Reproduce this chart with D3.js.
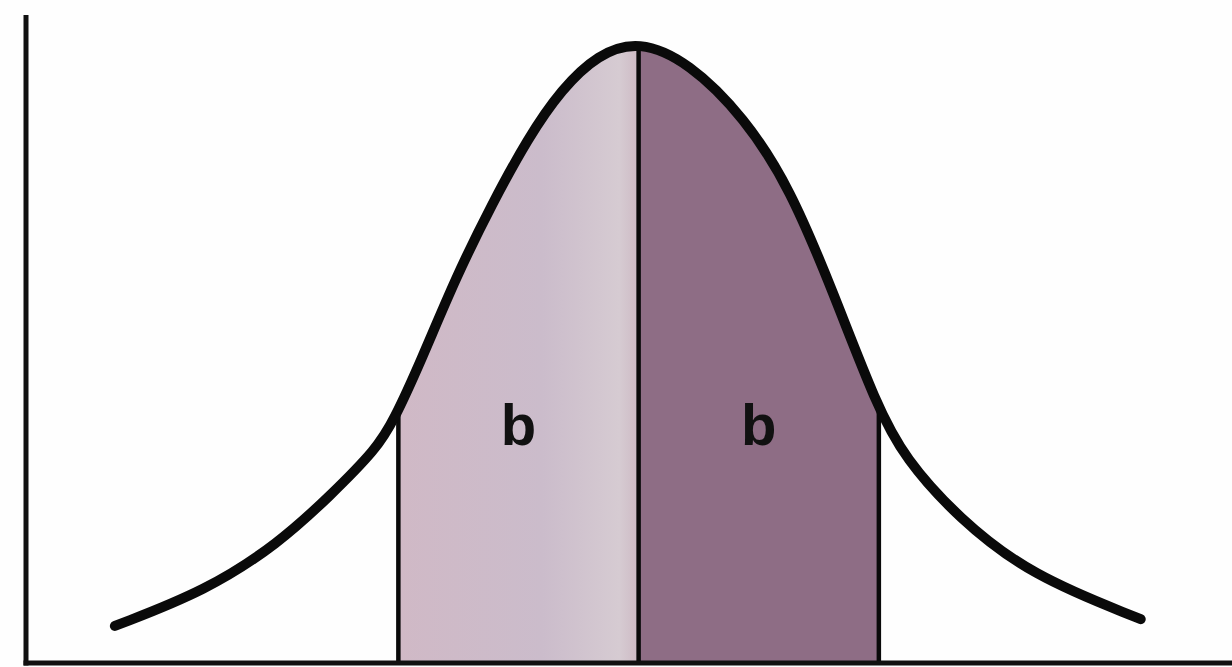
<!DOCTYPE html>
<meta charset="utf-8">
<style>
  body {
    margin: 0;
    background-color: #fefefe;
  }
  .axis-line {
    stroke: #111;
    stroke-width: 5;
  }
  .curve {
    fill: none;
    stroke: #0a0a0a;
    stroke-width: 10;
    stroke-linecap: round;
    stroke-linejoin: round;
  }
  .divider {
    stroke: #0a0a0a;
    stroke-width: 4.5;
  }
  .band-label {
    font: 700 58px "Liberation Sans", Arial, sans-serif;
    fill: #111;
  }
</style>
<body>
<div id="chart"></div>
<script src="https://d3js.org/d3.v7.min.js"></script>
<script>

// curve: position in std units, height relative to peak
var curveX = [-2.18, -1.80, -1.50, -1.28, -1.09, -1.02, -0.91, -0.76, -0.61, -0.46, -0.32, -0.17, 0,
              0.21, 0.44, 0.63, 0.81, 0.99, 1.11, 1.33, 1.63, 2.09];
var curveY = [0.060, 0.117, 0.193, 0.272, 0.347, 0.392, 0.485, 0.625, 0.743, 0.850, 0.929, 0.985, 1.008,
              0.972, 0.883, 0.769, 0.600, 0.417, 0.330, 0.235, 0.142, 0.071];

// shaded bands
var bandStart = [-1, 0];
var bandEnd = [0, 1];
var bandLabels = ["b", "b"];
var bandColors = ["#cdb8c7", "#8e6d85"];
var dividers = [-1, 0, 1];

var width = 1232,
    height = 667;

var x = d3.scaleLinear()
    .domain([-2.55, 2.47])
    .range([26, width]);

var y = d3.scaleLinear()
    .domain([0, 1])
    .range([663, 45]);

var svg = d3.select("#chart")
    .append("svg")
    .attr("width", width)
    .attr("height", height);

var points = curveX.map(function(d, i) { return [d, curveY[i]]; });

var line = d3.line()
    .x(function(d) { return x(d[0]); })
    .y(function(d) { return y(d[1]); })
    .curve(d3.curveBasis);

var area = d3.area()
    .x(function(d) { return x(d[0]); })
    .y0(y(0))
    .y1(function(d) { return y(d[1]); })
    .curve(d3.curveBasis);

// clip the bands and dividers to the area under the curve
svg.append("clipPath")
    .attr("id", "under")
  .append("path")
    .datum(points)
    .attr("d", area);

var bands = svg.append("g").attr("clip-path", "url(#under)");

var grad = svg.append("defs").append("linearGradient")
    .attr("id", "lightBand")
    .attr("x1", "0").attr("x2", "1").attr("y1", "0").attr("y2", "0");
grad.append("stop").attr("offset", "0").attr("stop-color", "#d0b9c6");
grad.append("stop").attr("offset", "0.6").attr("stop-color", "#cbbccb");
grad.append("stop").attr("offset", "0.92").attr("stop-color", "#d6cbd2");
grad.append("stop").attr("offset", "1").attr("stop-color", "#cdbac4");

bands.selectAll(".band")
    .data(bandStart)
  .enter().append("rect")
    .attr("class", "band")
    .attr("x", function(d) { return x(d); })
    .attr("width", function(d, i) { return x(bandEnd[i]) - x(d); })
    .attr("y", y(1.05))
    .attr("height", y(0) - y(1.05))
    .style("fill", function(d, i) { return i === 0 ? "url(#lightBand)" : bandColors[i]; });

bands.selectAll(".divider")
    .data(dividers)
  .enter().append("line")
    .attr("class", "divider")
    .attr("x1", function(d) { return x(d); })
    .attr("x2", function(d) { return x(d); })
    .attr("y1", y(0))
    .attr("y2", y(1.05));

svg.selectAll(".band-label")
    .data(bandLabels)
  .enter().append("text")
    .attr("class", "band-label")
    .attr("text-anchor", "middle")
    .attr("x", function(d, i) { return x((bandStart[i] + bandEnd[i]) / 2); })
    .attr("y", y(0.353))
    .text(function(d) { return d; });

svg.append("path")
    .datum(points)
    .attr("class", "curve")
    .attr("d", line);

// axes: plain lines, no ticks
svg.append("line")
    .attr("class", "axis-line")
    .attr("x1", x.range()[0]).attr("x2", x.range()[0])
    .attr("y1", 15).attr("y2", y(0) + 2.5);

svg.append("line")
    .attr("class", "axis-line")
    .attr("x1", x.range()[0] - 2.5).attr("x2", x.range()[1])
    .attr("y1", y(0)).attr("y2", y(0));

</script>
</body>
